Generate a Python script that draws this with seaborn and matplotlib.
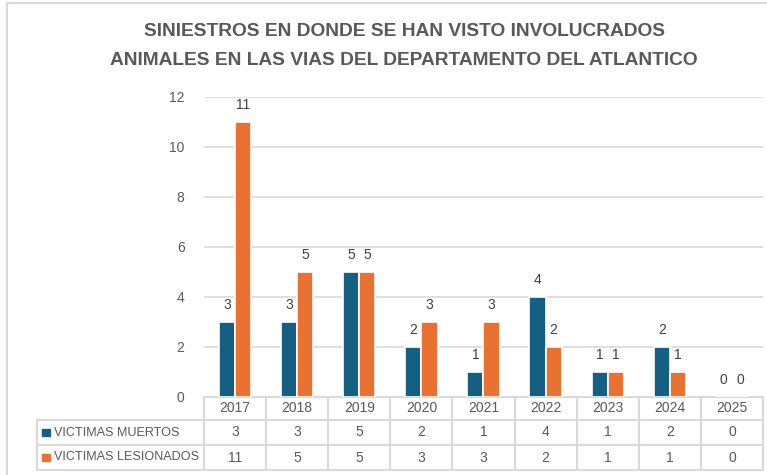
import matplotlib
matplotlib.use("Agg")
import pandas as pd
import matplotlib.pyplot as plt
import seaborn as sns
from matplotlib.lines import Line2D

# data
years = ['2017', '2018', '2019', '2020', '2021', '2022', '2023', '2024', '2025']
muertos = [3, 3, 5, 2, 1, 4, 1, 2, 0]
lesionados = [11, 5, 5, 3, 3, 2, 1, 1, 0]
series_names = ['VICTIMAS MUERTOS', 'VICTIMAS LESIONADOS']
colors = ['#156082', '#E97132']

df = pd.DataFrame({
    'Año': years * 2,
    'Valor': muertos + lesionados,
    'Serie': [series_names[0]] * len(years) + [series_names[1]] * len(years),
})

sns.set_style('white')
plt.rcParams['font.family'] = ['Liberation Sans', 'DejaVu Sans']

W, H = 767, 475
fig = plt.figure(figsize=(W / 100, H / 100), dpi=100)
x0, x1, ytop, ybot = 204, 763, 97, 397
ax = fig.add_axes([x0 / W, 1 - ybot / H, (x1 - x0) / W, (ybot - ytop) / H])

sns.barplot(data=df, x='Año', y='Valor', hue='Serie', palette=colors,
            saturation=1, width=0.52, edgecolor='white', linewidth=1.2,
            ax=ax, legend=False, zorder=3)

gray = '#595959'
grid = '#D9D9D9'
ax.set_ylim(0, 12)
ax.set_xlim(-0.5, len(years) - 0.5)
ax.set_yticks(range(0, 13, 2))
ax.tick_params(axis='y', labelsize=10, labelcolor=gray, length=0, pad=14)
ax.set_xticks([])
ax.set_xlabel('')
ax.set_ylabel('')
ax.grid(axis='y', color=grid, linewidth=1.2, zorder=0)
for s in ax.spines.values():
    s.set_visible(False)

# value labels
for cont in ax.containers:
    ax.bar_label(cont, padding=7, fontsize=10, color='#404040')

# data table under the chart
def fy(py):
    return (ybot - py) / (ybot - ytop)

def fx(px):
    return (px - x0) / (x1 - x0)

lkw = dict(color=grid, linewidth=1.5, transform=ax.transAxes, clip_on=False)
rows_y = [397, 420, 445, 470]
ax.add_line(Line2D([0, 1], [fy(397)] * 2, **lkw))
for py in rows_y[1:]:
    ax.add_line(Line2D([fx(37), 1], [fy(py)] * 2, **lkw))
n = len(years)
for k in range(n + 1):
    ax.add_line(Line2D([k / n] * 2, [fy(397), fy(470)], **lkw))
ax.add_line(Line2D([fx(37)] * 2, [fy(420), fy(470)], **lkw))

tkw = dict(transform=ax.transAxes, ha='center', va='center', fontsize=10,
           color=gray, clip_on=False)
for k, yr in enumerate(years):
    xc = (k + 0.5) / n
    ax.text(xc, fy(408.5), yr, **tkw)
    ax.text(xc, fy(432.5), str(muertos[k]), **tkw)
    ax.text(xc, fy(457.5), str(lesionados[k]), **tkw)

for name, col, py in zip(series_names, colors, [432.5, 457.5]):
    ax.add_patch(plt.Rectangle((fx(42), fy(py) - 0.012), fx(50) - fx(42), 0.024,
                               transform=ax.transAxes, color=col, clip_on=False))
    ax.text(fx(54), fy(py), name, transform=ax.transAxes, ha='left',
            va='center', fontsize=9.1, color=gray, clip_on=False)

# title
fig.text(404 / W, 1 - 46 / H,
         'SINIESTROS EN DONDE SE HAN VISTO INVOLUCRADOS\nANIMALES EN LAS VIAS DEL DEPARTAMENTO DEL ATLANTICO',
         ha='center', va='center', fontsize=13.8, fontweight='bold', color=gray,
         linespacing=1.85)

# chart border (partially visible)
fig.add_artist(Line2D([7 / W, 1], [1 - 3 / H] * 2, color=grid, linewidth=1.5,
                      transform=fig.transFigure))
fig.add_artist(Line2D([7 / W] * 2, [0, 1 - 3 / H], color=grid, linewidth=1.5,
                      transform=fig.transFigure))

fig.savefig('out.png', dpi=100)
